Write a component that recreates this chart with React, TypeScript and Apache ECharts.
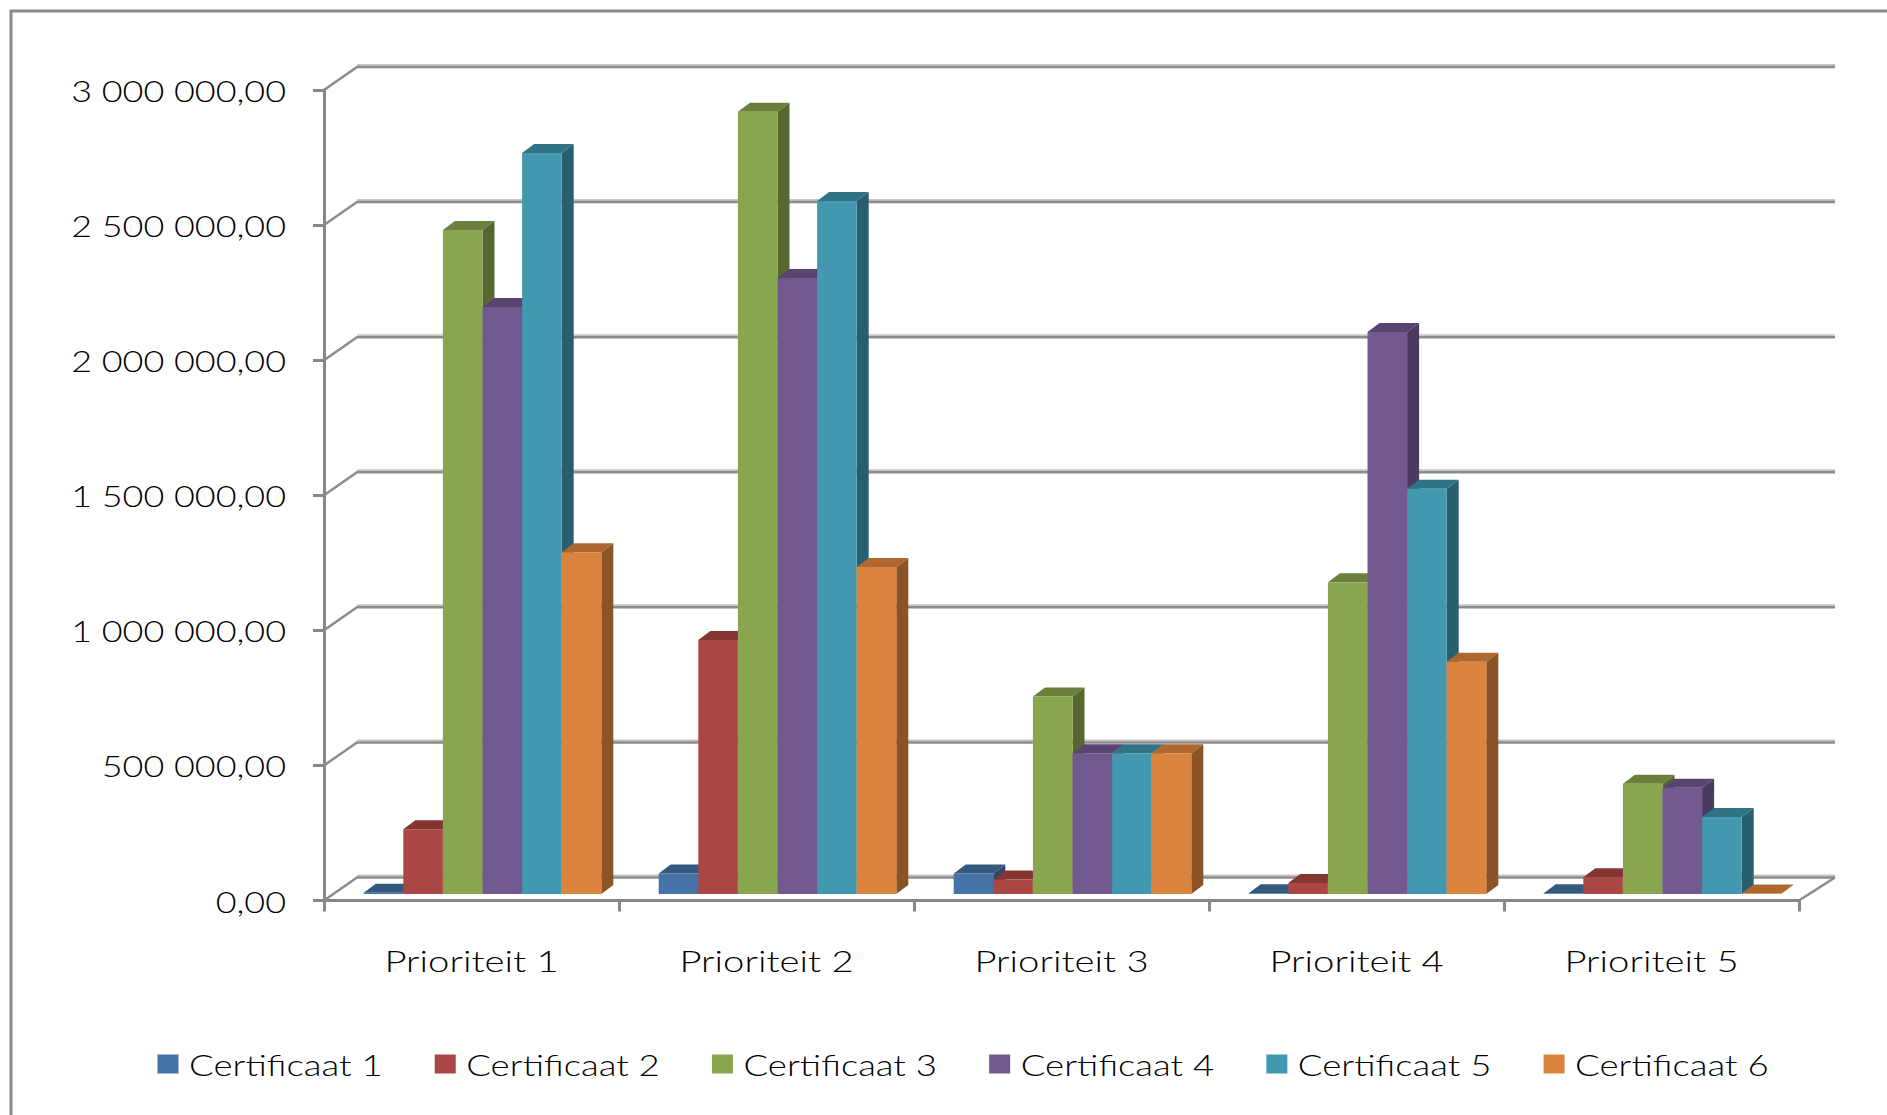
import React, { useEffect, useRef } from "react";
import * as echarts from "echarts";

const categories = ["Prioriteit 1", "Prioriteit 2", "Prioriteit 3", "Prioriteit 4", "Prioriteit 5"];
const certificaat1 = [5000, 76000, 76000, 3000, 3000];
const certificaat2 = [240000, 940000, 54000, 41000, 62000];
const certificaat3 = [2458000, 2895000, 731000, 1154000, 408000];
const certificaat4 = [2173000, 2280000, 521000, 2080000, 393000];
const certificaat5 = [2743000, 2565000, 521000, 1500000, 285000];
const certificaat6 = [1265000, 1210000, 521000, 860000, 2000];
const seriesNames = ["Certificaat 1", "Certificaat 2", "Certificaat 3", "Certificaat 4", "Certificaat 5", "Certificaat 6"];
const seriesValues = [certificaat1, certificaat2, certificaat3, certificaat4, certificaat5, certificaat6];
const yTicks = [0, 500000, 1000000, 1500000, 2000000, 2500000, 3000000];
const yTickLabels = ["0,00", "500 000,00", "1 000 000,00", "1 500 000,00", "2 000 000,00", "2 500 000,00", "3 000 000,00"];
const frontColors = ["#4572A7", "#AA4643", "#89A54E", "#71588F", "#4198AF", "#DB843D"];
const topColors = ["#35587F", "#843532", "#6A803C", "#57446F", "#307387", "#AD672F"];
const sideColors = ["#2C496B", "#6E2B29", "#566830", "#4A3A5F", "#285F6F", "#8B5426"];

const FONT = "Lato";
const FONT_WEIGHT = 300;
const TEXT_COLOR = "#000000";
const AXIS = "#878787";
const STRETCH_VALUE = 1.197;
const STRETCH_CATEGORY = 1.275;
const STRETCH_LEGEND = 1.22;
const WALL_DX = 33;
const WALL_DY = 23;
const WALL_EXTRA = 3;
const BAR_DX = 11;
const BAR_DY = 6.5;
const DEPTH_X = 12;
const DEPTH_Y = 9;
const BAR_RATIO = 39.6 / 295;

function renderWall(params: any, api: any) {
  const cs = params.coordSys;
  const y = api.coord([0, api.value(1)])[1];
  const x0 = cs.x;
  const x1 = cs.x + cs.width;
  const backY = y - WALL_DY;
  const isFloor = api.value(1) === 0;
  const children: any[] = [
    {
      type: "polyline",
      shape: { points: [[x0 + WALL_DX, backY - 2], [x1 + WALL_DX + WALL_EXTRA, backY - 2]] },
      style: { stroke: "#c6c6c6", lineWidth: 2, fill: "none" },
    },
    {
      type: "polyline",
      shape: { points: [[x0, y], [x0 + WALL_DX, backY], [x1 + WALL_DX + WALL_EXTRA, backY]] },
      style: { stroke: "#8c8c8c", lineWidth: 2.5, fill: "none" },
    },
  ];
  if (isFloor) {
    children.push({
      type: "polyline",
      shape: { points: [[x1, y], [x1 + WALL_DX + WALL_EXTRA, backY]] },
      style: { stroke: "#8c8c8c", lineWidth: 2.5, fill: "none" },
    });
  }
  return { type: "group", children };
}

function makeRenderBar(index: number) {
  return (_params: any, api: any) => {
    const cat = api.value(0);
    const center = api.coord([cat, 0]);
    const top = api.coord([cat, api.value(1)])[1] - BAR_DY;
    const base = center[1] - BAR_DY;
    const w = api.size([1, 0])[0] * BAR_RATIO;
    const left = center[0] + BAR_DX + (index - 3) * w;
    const right = left + w;
    return {
      type: "group",
      children: [
        {
          type: "polygon",
          shape: { points: [[right, top], [right + DEPTH_X, top - DEPTH_Y], [right + DEPTH_X, base - DEPTH_Y], [right, base]] },
          style: { fill: sideColors[index] },
        },
        {
          type: "polygon",
          shape: { points: [[left, top], [left + DEPTH_X, top - DEPTH_Y], [right + DEPTH_X, top - DEPTH_Y], [right, top]] },
          style: { fill: topColors[index] },
        },
        {
          type: "rect",
          shape: { x: left, y: top, width: w, height: Math.max(base - top, 0) },
          style: { fill: frontColors[index] },
        },
      ],
    };
  };
}

export default function App() {
  const ref = useRef<HTMLDivElement>(null);
  useEffect(() => {
    document.body.style.margin = "0";
    document.body.style.overflow = "hidden";
    const chart = echarts.init(ref.current!, null, { renderer: "svg" });
    chart.setOption({
      animation: false,
      backgroundColor: "#ffffff",
      textStyle: { fontFamily: FONT },
      grid: { left: 324, right: 88, top: 90, bottom: 214.5 },
      xAxis: {
        type: "category",
        data: categories,
        axisLine: { lineStyle: { color: AXIS, width: 3 } },
        axisTick: { show: true, length: 11, lineStyle: { color: AXIS, width: 3 }, alignWithLabel: false },
        axisLabel: { color: TEXT_COLOR, fontFamily: FONT, fontWeight: FONT_WEIGHT, fontSize: 30, margin: 44 },
        splitLine: { show: false },
      },
      yAxis: {
        type: "value",
        min: 0,
        max: 3000000,
        interval: 500000,
        axisLine: { show: true, lineStyle: { color: AXIS, width: 3 } },
        axisTick: { show: true, length: 11, lineStyle: { color: AXIS, width: 3 } },
        axisLabel: {
          color: TEXT_COLOR,
          fontFamily: FONT,
          fontWeight: FONT_WEIGHT,
          fontSize: 30,
          margin: 38,
          formatter: (v: number) => yTickLabels[yTicks.indexOf(v)],
        },
        splitLine: { show: false },
      },
      legend: {
        data: seriesNames,
        left: 152.5,
        top: 1044,
        icon: "rect",
        itemWidth: 21,
        itemHeight: 19,
        itemGap: 87,
        selectedMode: false,
        textStyle: { color: TEXT_COLOR, fontFamily: FONT, fontWeight: FONT_WEIGHT, fontSize: 30, padding: [0, 0, 0, 5.5] },
      },
      graphic: [
        {
          type: "polyline",
          shape: { points: [[11, 1115], [11, 11], [1887, 11]] },
          style: { stroke: "#8a8a8a", lineWidth: 3, fill: "none" },
          z: 0,
        },
      ],
      series: [
        {
          type: "custom",
          name: "walls",
          clip: false,
          z: 1,
          renderItem: renderWall,
          data: yTicks.map((v) => [0, v]),
          encode: { x: 0, y: 1 },
          silent: true,
        },
        ...seriesNames.map((name, i) => ({
          type: "custom",
          name,
          clip: false,
          z: 3 + i,
          itemStyle: { color: frontColors[i] },
          renderItem: makeRenderBar(i),
          data: seriesValues[i].map((v, c) => [c, v]),
          encode: { x: 0, y: 1 },
        })),
      ],
    });
    // The reference's lettering is stretched sideways; widen each text the same way.
    ref.current!.querySelectorAll("svg text").forEach((t: any) => {
      const len = t.getComputedTextLength();
      const content = t.textContent || "";
      const stretch = categories.includes(content)
        ? STRETCH_CATEGORY
        : seriesNames.includes(content)
          ? STRETCH_LEGEND
          : STRETCH_VALUE;
      if (len > 0) {
        t.setAttribute("textLength", String(len * stretch));
        t.setAttribute("lengthAdjust", "spacingAndGlyphs");
      }
    });
    return () => chart.dispose();
  }, []);
  return <div ref={ref} style={{ width: 1887, height: 1115 }} />;
}
